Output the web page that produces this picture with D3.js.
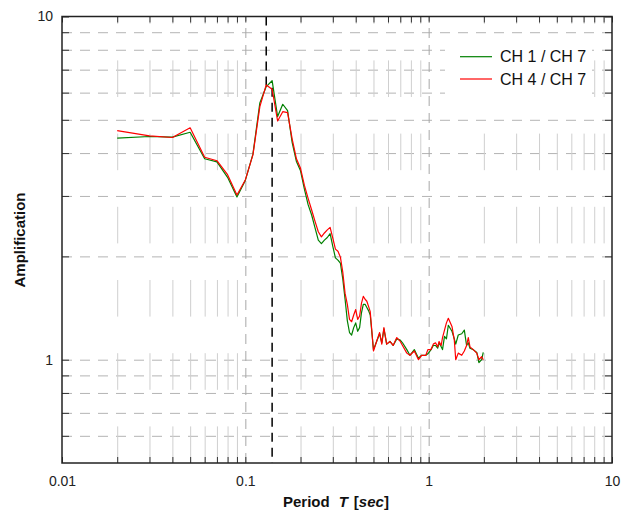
<!DOCTYPE html>
<html>
<head>
<meta charset="utf-8">
<script src="https://cdn.jsdelivr.net/npm/d3@7"></script>
<style>
  body { margin: 0; background: #fff; }
  svg { display: block; font-family: Arial, "Liberation Sans", sans-serif; }
  .grid .domain { display: none; }
</style>
</head>
<body>
<script>
// periods [sec] shared by both ratios
var periods = [0.02, 0.03, 0.04, 0.05, 0.06, 0.07, 0.08, 0.09, 0.10, 0.11,
  0.12, 0.13, 0.14, 0.15, 0.16, 0.17, 0.18, 0.19, 0.20, 0.21,
  0.22, 0.23, 0.24, 0.25, 0.26, 0.27, 0.28, 0.29, 0.30, 0.31,
  0.32, 0.33, 0.34, 0.35, 0.36, 0.37, 0.38, 0.39, 0.40, 0.41,
  0.42, 0.43, 0.44, 0.45, 0.46, 0.47, 0.48, 0.49, 0.50, 0.52,
  0.54, 0.555, 0.57, 0.59, 0.615, 0.64, 0.67, 0.70, 0.72, 0.76,
  0.79, 0.835, 0.88, 0.915, 0.965, 0.99, 1.03, 1.06, 1.09, 1.12,
  1.14, 1.17, 1.19, 1.22, 1.25, 1.28, 1.34, 1.38, 1.405, 1.45,
  1.515, 1.565, 1.61, 1.645, 1.68, 1.75, 1.83, 1.88, 1.945, 1.985];

var ch1ch7 = [4.42, 4.47, 4.45, 4.60, 3.85, 3.77, 3.40, 2.98, 3.33, 3.97,
  5.60, 6.25, 6.50, 5.11, 5.55, 5.32, 4.30, 3.78, 3.55, 3.14,
  2.83, 2.64, 2.42, 2.23, 2.18, 2.23, 2.27, 2.33, 2.14, 1.98,
  1.95, 1.91, 1.72, 1.50, 1.30, 1.20, 1.18, 1.24, 1.28, 1.21,
  1.24, 1.37, 1.45, 1.45, 1.42, 1.39, 1.35, 1.20, 1.07, 1.13,
  1.19, 1.12, 1.23, 1.11, 1.13, 1.10, 1.15, 1.14, 1.12, 1.07,
  1.03, 1.07, 1.01, 1.03, 1.03, 1.04, 1.07, 1.10, 1.10, 1.08,
  1.12, 1.09, 1.07, 1.17, 1.15, 1.26, 1.21, 1.15, 1.11, 1.18,
  1.19, 1.22, 1.10, 1.12, 1.08, 1.07, 1.05, 0.98, 1.00, 1.05];

var ch4ch7 = [4.65, 4.49, 4.44, 4.74, 3.89, 3.80, 3.46, 3.02, 3.34, 3.95,
  5.46, 6.32, 6.14, 4.96, 5.28, 5.25, 4.40, 3.85, 3.61, 3.22,
  2.95, 2.73, 2.53, 2.36, 2.28, 2.34, 2.39, 2.43, 2.26, 2.10,
  2.07, 1.99, 1.80, 1.56, 1.45, 1.31, 1.29, 1.35, 1.40, 1.31,
  1.34, 1.46, 1.53, 1.50, 1.48, 1.43, 1.38, 1.21, 1.06, 1.13,
  1.20, 1.11, 1.24, 1.11, 1.13, 1.10, 1.16, 1.13, 1.10, 1.045,
  1.03, 1.06, 1.00, 1.03, 1.03, 1.07, 1.07, 1.11, 1.12, 1.09,
  1.13, 1.10, 1.16, 1.22, 1.28, 1.32, 1.25, 1.14, 1.00, 1.045,
  1.03, 1.06, 1.10, 1.16, 1.09, 1.07, 1.045, 1.00, 1.02, 1.00];

var seriesNames = ["CH 1 / CH 7", "CH 4 / CH 7"];
var seriesColors = ["#008000", "#ff0000"];

// predominant period markers: [period, upper value, lower value]
var peakMarks = [[0.13, 10, 6.2], [0.14, 6.2, 0.5]];

var xMajor = [0.01, 0.1, 1, 10];
var yMajor = [1, 10];

var width = 630, height = 514;
var margin = {left: 62, right: 18, top: 16.5, bottom: 51};
var w = width - margin.left - margin.right;
var h = height - margin.top - margin.bottom;

var x = d3.scaleLog().domain([0.01, 10]).range([0, w]);
var y = d3.scaleLog().domain([0.5, 10]).range([h, 0]);

// minor positions inside each decade
var xMinor = [];
[0.01, 0.1, 1].forEach(function(d){
  for (var k = 2; k <= 9; k++) xMinor.push(+(d * k).toPrecision(3));
});
var yMinor = [0.6, 0.7, 0.8, 0.9];
for (var k = 2; k <= 9; k++) yMinor.push(k);

var svg = d3.select("body").append("svg")
  .attr("width", width).attr("height", height);

var chartGroup = svg.append("g")
  .attr("transform", "translate(" + margin.left + "," + margin.top + ")");

// grid: horizontal dashed
chartGroup.append("g").attr("class", "grid")
  .call(d3.axisLeft(y).tickValues(yMinor.concat([1])).tickSize(-w).tickFormat(""))
  .selectAll("line")
  .attr("stroke", "#b4b4b4").attr("stroke-dasharray", "10,8");

// grid: minor vertical long dashes, drawn from the bottom up
chartGroup.append("g").attr("class", "grid")
  .attr("transform", "translate(0," + h + ")")
  .call(d3.axisBottom(x).tickValues(xMinor).tickSize(-h).tickFormat(""))
  .selectAll("line")
  .attr("stroke", "#cfcfcf").attr("stroke-dasharray", "36.6,36.6");

// grid: major vertical dashed
chartGroup.append("g").attr("class", "grid")
  .attr("transform", "translate(0," + h + ")")
  .call(d3.axisBottom(x).tickValues([0.1, 1]).tickSize(-h).tickFormat(""))
  .selectAll("line")
  .attr("stroke", "#a8a8a8").attr("stroke-dasharray", "10,7");

// legend background
chartGroup.append("rect")
  .attr("x", 445 - margin.left).attr("y", 40 - margin.top)
  .attr("width", 147).attr("height", 58)
  .attr("fill", "#fff");

// peak period marker
chartGroup.selectAll(".peak").data(peakMarks)
  .enter().append("line")
  .attr("class", "peak")
  .attr("x1", function(d){ return x(d[0]); })
  .attr("x2", function(d){ return x(d[0]); })
  .attr("y1", function(d){ return y(d[1]); })
  .attr("y2", function(d){ return y(d[2]); })
  .attr("stroke", "#000").attr("stroke-width", 1.5)
  .attr("stroke-dasharray", "9,6");

// curves
var line = d3.line()
  .x(function(d){ return x(d[0]); })
  .y(function(d){ return y(d[1]); });

[ch1ch7, ch4ch7].forEach(function(vals, i){
  chartGroup.append("path")
    .datum(periods.map(function(p, j){ return [p, vals[j]]; }))
    .attr("fill", "none")
    .attr("stroke", seriesColors[i])
    .attr("stroke-width", 1.2)
    .attr("stroke-linejoin", "round")
    .attr("d", line);
});

// axes with inward ticks
var fmtX = function(d){ return xMajor.indexOf(d) >= 0 ? String(d) : ""; };
var fmtY = function(d){ return yMajor.indexOf(d) >= 0 ? String(d) : ""; };
var xTicks = xMinor.concat(xMajor);
var yTicks = yMinor.concat(yMajor);

var axes = [
  chartGroup.append("g").attr("transform", "translate(0," + h + ")")
    .call(d3.axisBottom(x).tickValues(xTicks).tickFormat(fmtX).tickSize(-6).tickPadding(13)),
  chartGroup.append("g")
    .call(d3.axisTop(x).tickValues(xTicks).tickFormat("").tickSize(-6)),
  chartGroup.append("g")
    .call(d3.axisLeft(y).tickValues(yTicks).tickFormat(fmtY).tickSize(-7).tickPadding(9)),
  chartGroup.append("g").attr("transform", "translate(" + w + ",0)")
    .call(d3.axisRight(y).tickValues(yTicks).tickFormat("").tickSize(-7))
];
axes.forEach(function(a){
  a.select(".domain").remove();
  a.selectAll("line").attr("stroke", "#333");
  a.selectAll("text").attr("font-size", "14px").attr("fill", "#222")
    .attr("font-family", "Arial, 'Liberation Sans', sans-serif");
});

chartGroup.append("rect")
  .attr("width", w).attr("height", h)
  .attr("fill", "none").attr("stroke", "#222").attr("stroke-width", 1.5);

// legend
var legend = chartGroup.selectAll(".legend").data(seriesNames)
  .enter().append("g")
  .attr("class", "legend")
  .attr("transform", function(d, i){ return "translate(0," + (56.7 - margin.top + i * 22.3) + ")"; });
legend.append("line")
  .attr("x1", 460 - margin.left).attr("x2", 492 - margin.left)
  .attr("stroke", function(d, i){ return seriesColors[i]; })
  .attr("stroke-width", 1.2);
legend.append("text")
  .attr("x", 500 - margin.left).attr("dy", "0.35em")
  .attr("font-size", "16px").attr("fill", "#111")
  .text(function(d){ return d; });

// axis titles
var xTitle = svg.append("text")
  .attr("x", 283).attr("y", 507)
  .attr("font-size", "15px").attr("font-weight", "bold").attr("fill", "#111");
xTitle.append("tspan").text("Period");
xTitle.append("tspan").attr("dx", 9).attr("font-style", "italic").text("T");
xTitle.append("tspan").attr("dx", 6).text("[");
xTitle.append("tspan").attr("font-style", "italic").text("sec");
xTitle.append("tspan").text("]");

svg.append("text")
  .attr("transform", "translate(25,240) rotate(-90)")
  .attr("text-anchor", "middle")
  .attr("font-size", "15px").attr("font-weight", "bold").attr("fill", "#111")
  .text("Amplification");
</script>
</body>
</html>
